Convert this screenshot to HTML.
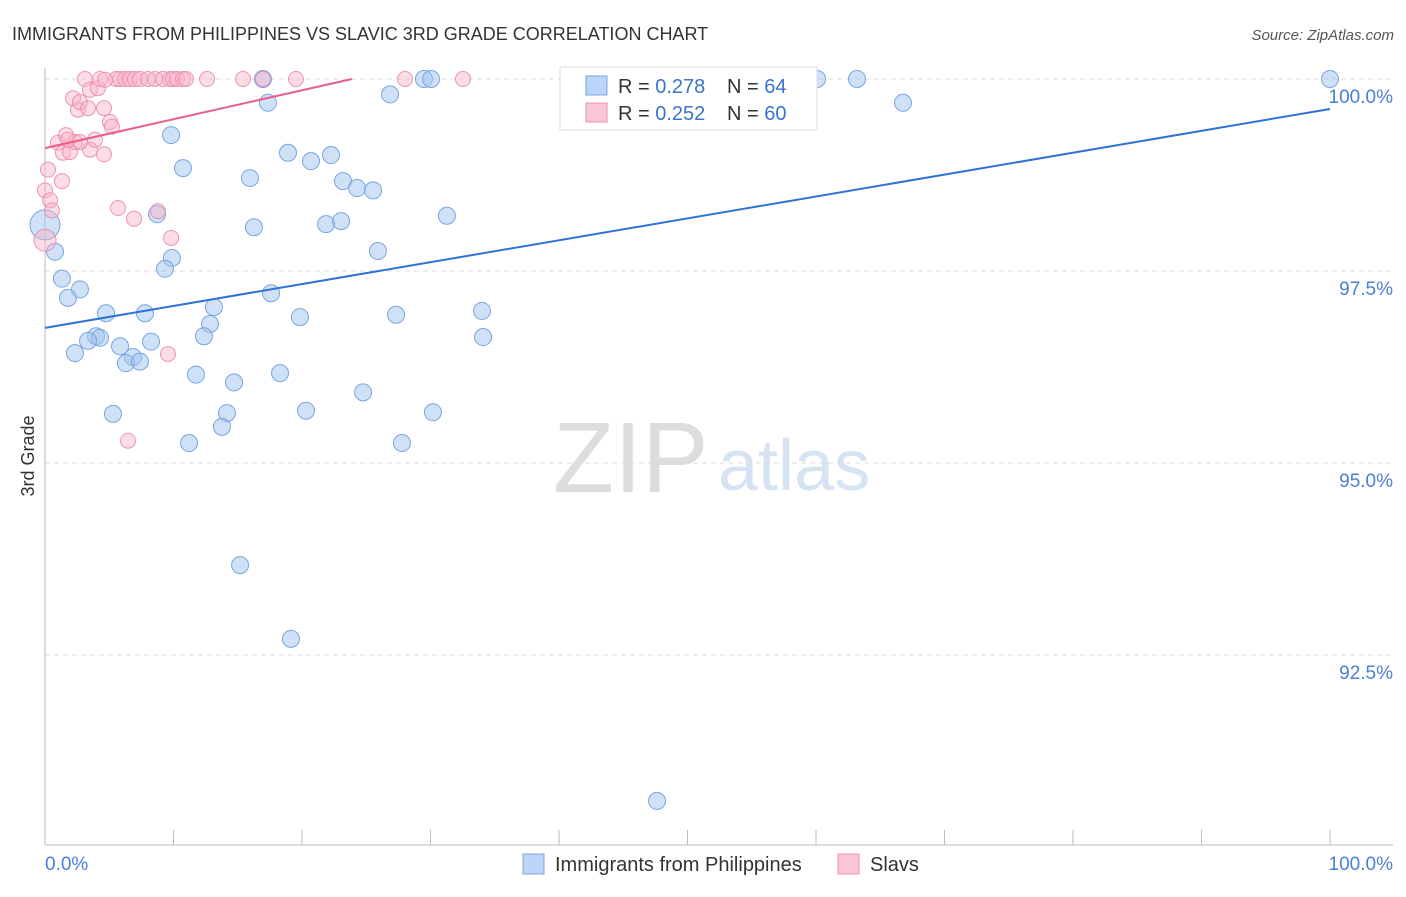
<!DOCTYPE html>
<html><head><meta charset="utf-8"><style>
body{margin:0;background:#fff;font-family:"Liberation Sans",sans-serif}
svg text{font-family:"Liberation Sans",sans-serif}
</style></head><body>
<svg width="1406" height="892" xmlns="http://www.w3.org/2000/svg">
<text x="12" y="40" font-size="18" fill="#333">IMMIGRANTS FROM PHILIPPINES VS SLAVIC 3RD GRADE CORRELATION CHART</text>
<text x="1394" y="40" font-size="15" fill="#555" text-anchor="end" font-style="italic">Source: ZipAtlas.com</text>
<text x="553" y="492" font-size="100" fill="#ddd" font-family="Liberation Serif">ZIP</text>
<text x="718" y="490" font-size="72" fill="#d6e3f3">atlas</text>
<g id="grid"></g>
<line x1="45" y1="68" x2="45" y2="845" stroke="#bbb"/>
<line x1="45" y1="845" x2="1393" y2="845" stroke="#bbb"/>
<text x="34" y="456" font-size="18" fill="#333" transform="rotate(-90 34 456)" text-anchor="middle">3rd Grade</text>
<text x="45" y="870" font-size="19" fill="#4a7fd6">0.0%</text>
<text x="1393" y="870" font-size="19" fill="#4a7fd6" text-anchor="end">100.0%</text>
<g id="marks"></g>
<g>
<rect x="560" y="67" width="257" height="63" fill="#fff" stroke="#ddd"/>
<rect x="586" y="76" width="21" height="19" fill="#bcd4f5" stroke="#7aa5e0"/>
<rect x="586" y="103" width="21" height="19" fill="#fac6d6" stroke="#eb93b0"/>
<text x="618" y="93" font-size="20" fill="#333">R = <tspan fill="#3a73d0">0.278</tspan></text>
<text x="727" y="93" font-size="20" fill="#333">N = <tspan fill="#3a73d0">64</tspan></text>
<text x="618" y="120" font-size="20" fill="#333">R = <tspan fill="#3a73d0">0.252</tspan></text>
<text x="727" y="120" font-size="20" fill="#333">N = <tspan fill="#3a73d0">60</tspan></text>
</g>
<g>
<rect x="523" y="854" width="21" height="20" fill="#bcd4f5" stroke="#7aa5e0"/>
<text x="555" y="871" font-size="20" fill="#333">Immigrants from Philippines</text>
<rect x="838" y="854" width="21" height="20" fill="#fac6d6" stroke="#eb93b0"/>
<text x="870" y="871" font-size="20" fill="#333">Slavs</text>
</g>
</svg>
<script>
const yTicks=[100,97.5,95,92.5];
const yTickLabels=["100.0%","97.5%","95.0%","92.5%"];
const xTicks=[0,10,20,30,40,50,60,70,80,90,100];
const blueX=[0,0.78,1.32,2.72,1.79,4.75,7.78,3.97,4.28,3.35,2.33,5.84,6.85,6.30,7.39,8.25,5.29,9.81,10.74,8.72,9.88,9.34,13.15,12.84,12.37,11.75,14.71,14.16,13.77,11.21,15.95,16.26,16.96,17.35,17.59,18.29,18.91,19.84,20.70,22.26,23.19,24.28,25.53,21.87,23.04,25.91,20.31,24.75,27.32,26.85,29.49,30.04,31.28,34.01,34.09,30.19,27.78,15.18,19.14,47.63,60.08,63.19,66.77,100];
const blueY=[98.10,97.75,97.40,97.26,97.15,96.95,96.95,96.65,96.63,96.59,96.43,96.52,96.38,96.30,96.32,96.58,95.64,99.27,98.84,98.24,97.67,97.53,97.03,96.81,96.65,96.15,96.05,95.65,95.47,95.26,98.71,98.07,100,99.69,97.21,96.17,99.04,96.90,98.93,99.01,98.67,98.58,98.55,98.11,98.15,97.76,95.68,95.92,96.93,99.80,100,100,98.22,96.98,96.64,95.66,95.26,93.67,92.71,90.60,100,100,99.69,100];
const pinkX=[0,0.23,0.39,0.54,0,1.32,1.01,1.40,1.95,1.63,2.18,2.57,2.33,2.72,3.11,3.35,3.50,3.89,3.50,4.12,4.59,4.59,4.28,5.06,5.21,5.68,5.53,5.84,6.23,6.61,7.00,7.39,8.02,8.56,9.18,9.73,9.96,10.27,10.74,10.97,12.61,15.41,16.96,19.53,28.02,32.53,6.93,8.79,9.81,9.57,6.46,1.79,2.72,4.67];
const pinkY=[98.55,98.82,98.42,98.29,97.90,98.67,99.17,99.04,99.05,99.27,99.75,99.60,99.18,99.70,100,99.62,99.08,99.21,99.86,99.88,99.62,99.02,100,99.44,99.38,98.32,100,100,100,100,100,100,100,100,100,100,100,100,100,100,100,100,100,100,100,100,98.18,98.28,97.93,96.42,95.29,99.21,99.18,99.99];
const blueTrend=[96.76,99.61];
const pinkTrend=[99.10,100];const pinkTrendEnd=23.9;
const X=v=>45+v*12.85, Y=v=>79+(100-v)*76.8;
const NS="http://www.w3.org/2000/svg";
const grid=document.getElementById('grid'),marks=document.getElementById('marks');
function mk(p,tag,a){const e=document.createElementNS(NS,tag);for(const k in a)e.setAttribute(k,a[k]);p.appendChild(e);return e;}
yTicks.forEach((t,i)=>{
 const l=mk(grid,'line',{x1:45,x2:1393,y1:Y(t),y2:Y(t),stroke:'#ddd','stroke-dasharray':'5,4'});
 
 
 const tx=mk(grid,'text',{x:1393,y:Y(t)+24,'font-size':19,fill:'#4a7fd6','text-anchor':'end'});
 tx.textContent=yTickLabels[i];
 
 
});
xTicks.forEach(t=>{
 const l=mk(grid,'line',{x1:X(t),x2:X(t),y1:830,y2:845,stroke:'#bbb'});
 
 
});
blueX.forEach((x,i)=>{
 const c=mk(marks,'circle',{cx:X(x),cy:Y(blueY[i]),r:i==0?15:8.5,fill:'rgba(160,195,240,0.5)',stroke:'#7aa5e0','stroke-width':1});
 
 
});
pinkX.forEach((x,i)=>{
 const c=mk(marks,'circle',{cx:X(x),cy:Y(pinkY[i]),r:i==4?11:7.5,fill:'rgba(248,180,200,0.45)',stroke:'#eb93b0','stroke-width':1});
 
 
});
const bl=mk(marks,'line',{x1:X(0),y1:Y(blueTrend[0]),x2:X(100),y2:Y(blueTrend[1]),stroke:'#2f72d6','stroke-width':2});


const pl=mk(marks,'line',{x1:X(0),y1:Y(pinkTrend[0]),x2:X(pinkTrendEnd),y2:Y(pinkTrend[1]),stroke:'#e8608a','stroke-width':2});


</script>
</body></html>
